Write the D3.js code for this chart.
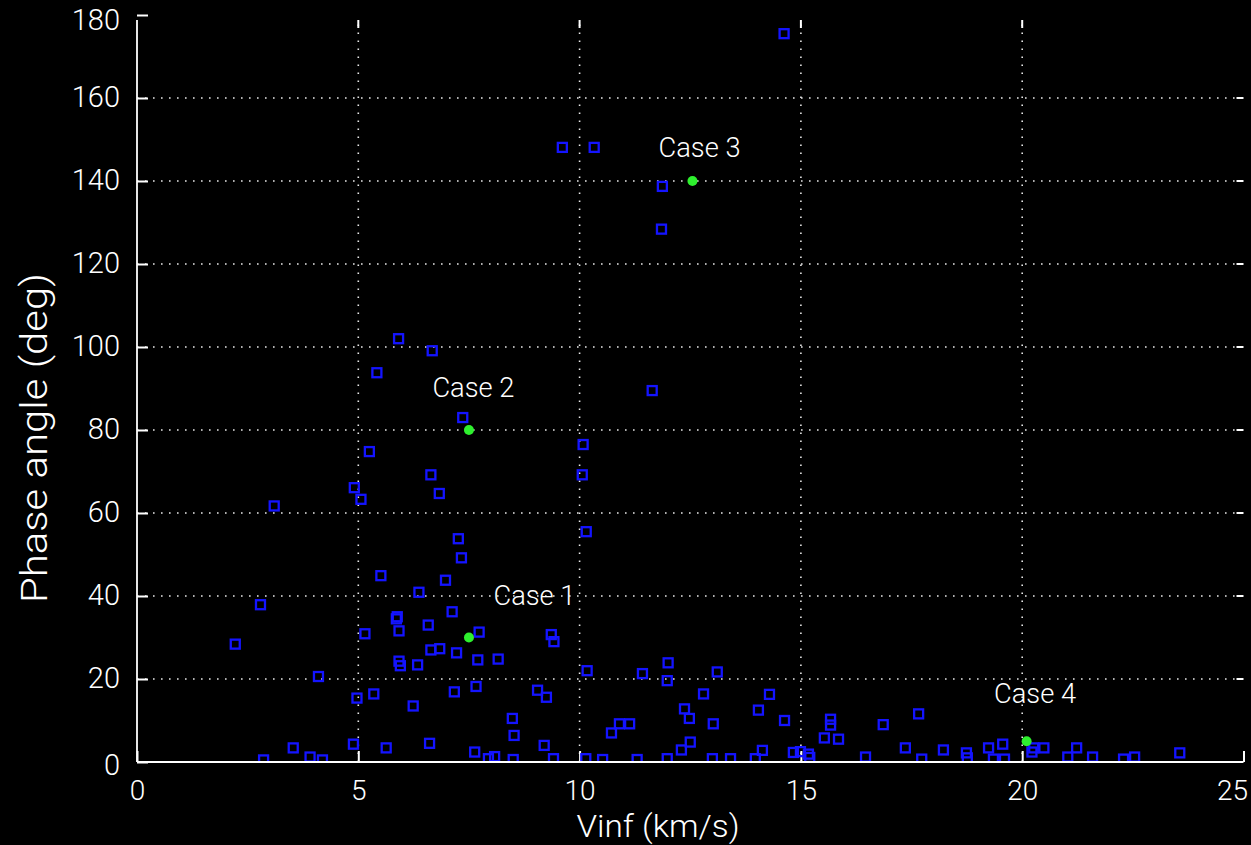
<!DOCTYPE html>
<html>
<head>
<meta charset="utf-8">
<script src="https://cdn.jsdelivr.net/npm/d3@7"></script>
<style>
  html, body { margin: 0; padding: 0; background: #000; }
  svg { display: block; }
  text { font-family: Roboto, "Liberation Sans", Arial, sans-serif; font-weight: 300; fill: #fff; }
</style>
</head>
<body>
<svg id="chart" width="1251" height="845"></svg>
<script>
// ---- data ----
const vinf = [14.62, 9.61, 10.33, 11.87, 11.85, 11.64, 5.91, 6.67, 5.42, 7.36,
  10.08, 10.06, 5.25, 6.64, 4.91, 5.06, 6.83, 3.10, 10.15, 7.26,
  7.33, 5.51, 6.97, 6.37, 2.79, 7.12, 5.88, 5.86, 5.92, 6.58,
  5.15, 7.73, 9.36, 9.42, 2.22, 6.64, 6.84, 7.22, 5.92, 5.95,
  6.34, 7.70, 8.16, 10.17, 12.00, 11.98, 11.42, 13.11, 4.10, 5.35,
  4.97, 7.17, 7.66, 9.05, 9.25, 6.24, 12.80, 14.29, 14.04, 12.37,
  12.48, 14.63, 15.67, 15.67, 8.48, 16.86, 17.66, 10.90, 11.13, 10.72,
  13.02, 8.52, 15.53, 15.85, 4.89, 6.61, 9.20, 3.53, 5.63, 12.50,
  12.30, 14.13, 14.83, 14.99, 15.17, 7.63, 8.08, 7.94, 8.50, 9.41,
  10.14, 10.52, 11.30, 11.98, 13.00, 13.41, 13.97, 15.20, 3.91, 4.19,
  2.86, 16.46, 17.36, 17.73, 18.22, 18.74, 18.76, 19.24, 19.56, 19.35,
  19.60, 20.22, 20.26, 20.49, 21.03, 21.23, 21.59, 22.29, 22.54, 23.56];
const phase = [175.5, 148.1, 148.1, 138.7, 128.4, 89.5, 102.0, 99.1, 93.8, 83.0,
  76.5, 69.2, 74.8, 69.2, 66.1, 63.3, 64.7, 61.7, 55.5, 53.8,
  49.2, 44.9, 43.8, 40.9, 37.9, 36.2, 35.0, 34.5, 31.6, 33.0,
  30.9, 31.3, 30.7, 29.0, 28.4, 27.0, 27.3, 26.3, 24.3, 23.2,
  23.4, 24.6, 24.8, 22.0, 23.9, 19.6, 21.3, 21.7, 20.6, 16.4,
  15.4, 16.9, 18.2, 17.3, 15.6, 13.5, 16.4, 16.3, 12.5, 12.8,
  10.5, 10.0, 10.3, 8.9, 10.5, 9.0, 11.6, 9.2, 9.2, 7.0,
  9.2, 6.4, 5.8, 5.5, 4.3, 4.5, 4.0, 3.4, 3.4, 4.8,
  2.9, 2.8, 2.3, 2.5, 1.9, 2.4, 1.3, 0.8, 0.6, 0.8,
  0.8, 0.6, 0.6, 0.8, 0.8, 0.8, 0.8, 1.1, 1.2, 0.5,
  0.5, 1.2, 3.4, 0.7, 2.9, 2.2, 1.0, 3.4, 4.3, 0.7,
  0.7, 2.4, 3.4, 3.4, 1.2, 3.4, 1.2, 0.7, 1.2, 2.2];

const caseNames = ["Case 1", "Case 2", "Case 3", "Case 4"];
const caseVinf = [7.5, 7.5, 12.55, 20.1];
const casePhase = [30, 80, 140, 5];
const caseLabelVinf = [8.98, 7.6, 12.71, 20.29];
const caseLabelPhase = [37.9, 88.0, 145.7, 14.2];

const xTicks = [0, 5, 10, 15, 20, 25];
const yTicks = [0, 20, 40, 60, 80, 100, 120, 140, 160, 180];
const xLabel = "Vinf (km/s)";
const yLabel = "Phase angle (deg)";

// ---- layout ----
const pLeft = 137, pRight = 1243.5, pTop = 15, pBottom = 762;
const svg = d3.select("#chart");
const x = d3.scaleLinear().domain([0, 25]).range([pLeft, pRight]);
const y = d3.scaleLinear().domain([0, 180]).range([pBottom, pTop]);
const FONT = "Roboto, 'Liberation Sans', Arial, sans-serif";

// grid
const grid = svg.append("g").attr("stroke", "#e8e8e8").attr("stroke-width", 1.6)
  .attr("stroke-dasharray", "1.6,6.4").attr("fill", "none");
grid.selectAll("line.gx").data(xTicks.filter(d => d > 0 && d < 25)).join("line")
  .attr("x1", d => x(d)).attr("x2", d => x(d)).attr("y1", pBottom).attr("y2", pTop + 5);
grid.selectAll("line.gy").data(yTicks.filter(d => d > 0 && d < 180)).join("line")
  .attr("x1", pLeft).attr("x2", pRight).attr("y1", d => y(d)).attr("y2", d => y(d));

// axes (bottom and left with inward ticks)
const xAxis = d3.axisBottom(x).tickValues(xTicks).tickSize(-11).tickPadding(11.5).tickFormat(d3.format("d"));
const yAxis = d3.axisLeft(y).tickValues(yTicks).tickSize(-11).tickPadding(18).tickFormat(d3.format("d"));
const gx = svg.append("g").attr("transform", `translate(0,${pBottom})`).call(xAxis);
const gy = svg.append("g").attr("transform", `translate(${pLeft},0)`).call(yAxis);
[gx, gy].forEach(g => {
  g.select(".domain").remove();
  g.selectAll(".tick line").attr("stroke", "#fff").attr("stroke-width", 2);
  g.selectAll(".tick text").attr("fill", "#fff").style("font-size", "29px")
    .style("font-family", FONT).style("font-weight", 300);
});
gx.selectAll(".tick text").style("font-size", "28px").attr("dy", "0.95em");
gx.selectAll(".tick").filter(d => d === 25).select("text").attr("text-anchor", "end").attr("x", 4);
gy.selectAll(".tick text").attr("dy", "0.3em").attr("x", -17);
gy.selectAll(".tick").filter(d => d === 180).select("text").attr("dy", "0.5em");
gy.selectAll(".tick").filter(d => d === 0).select("text").attr("dy", "0.42em");

// top / right ticks (no axis line)
const tickG = svg.append("g").attr("stroke", "#fff").attr("stroke-width", 2);
tickG.selectAll("line.tt").data(xTicks.filter(d => d > 0 && d < 25)).join("line")
  .attr("x1", d => x(d)).attr("x2", d => x(d)).attr("y1", pTop + 5).attr("y2", pTop + 13);
tickG.selectAll("line.rt").data(yTicks.filter(d => d > 0 && d < 180)).join("line")
  .attr("x1", pRight).attr("x2", pRight - 7).attr("y1", d => y(d)).attr("y2", d => y(d));

// axis lines
svg.append("line").attr("x1", pLeft).attr("x2", pLeft).attr("y1", pTop + 5).attr("y2", pBottom)
  .attr("stroke", "#fff").attr("stroke-width", 1.8);
svg.append("line").attr("x1", pLeft).attr("x2", pRight).attr("y1", pBottom).attr("y2", pBottom)
  .attr("stroke", "#fff").attr("stroke-width", 1.8);

// clip for markers
svg.append("clipPath").attr("id", "plotclip").append("rect")
  .attr("x", pLeft + 1).attr("y", 0).attr("width", pRight - pLeft).attr("height", pBottom - 1);

const pts = vinf.map((v, i) => ({ v, p: phase[i] }));
const s = 9;
svg.append("g").attr("clip-path", "url(#plotclip)")
  .selectAll("rect").data(pts).join("rect")
  .attr("x", d => x(d.v) - s / 2).attr("y", d => y(d.p) - s / 2)
  .attr("width", s).attr("height", s)
  .attr("fill", "none").attr("stroke", "#1414ff").attr("stroke-width", 2.3);

// highlighted cases
const cases = caseNames.map((n, i) => ({ n, v: caseVinf[i], p: casePhase[i], lv: caseLabelVinf[i], lp: caseLabelPhase[i] }));
svg.append("g").selectAll("circle").data(cases).join("circle")
  .attr("cx", d => x(d.v)).attr("cy", d => y(d.p)).attr("r", 5)
  .attr("fill", "#2ef02e");
svg.append("g").selectAll("text").data(cases).join("text")
  .attr("x", d => x(d.lv)).attr("y", d => y(d.lp))
  .attr("text-anchor", "middle").style("font-size", "28px")
  .attr("textLength", 82).attr("lengthAdjust", "spacingAndGlyphs")
  .text(d => d.n);

// axis titles
svg.append("text").attr("x", 658).attr("y", 837).attr("text-anchor", "middle")
  .style("font-size", "32px").attr("textLength", 163).attr("lengthAdjust", "spacingAndGlyphs")
  .text(xLabel);
svg.append("text").attr("transform", "translate(47,438) rotate(-90)").attr("text-anchor", "middle")
  .style("font-size", "36px").attr("textLength", 330).attr("lengthAdjust", "spacingAndGlyphs")
  .text(yLabel);
</script>
</body>
</html>
